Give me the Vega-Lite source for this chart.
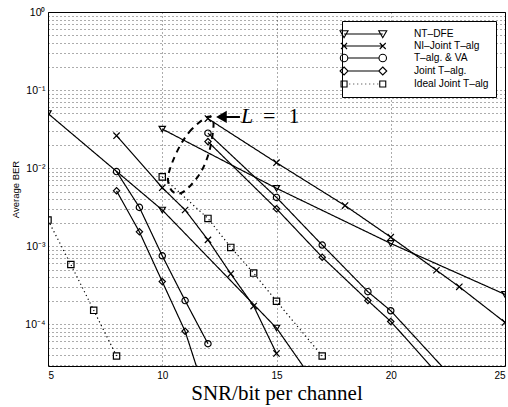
{
  "$schema": "https://vega.github.io/schema/vega-lite/v6.json",
  "width": 457,
  "height": 354,
  "autosize": {"type": "none"},
  "padding": {"left": 48, "top": 12, "right": 3, "bottom": 41},
  "background": "white",
  "config": {
    "font": "Liberation Sans",
    "view": {"stroke": "black", "strokeWidth": 1},
    "axis": {"domain": false, "ticks": false, "grid": true, "gridColor": "black", "gridDash": [1, 3], "gridOpacity": 0.65, "gridWidth": 1, "labelColor": "black", "titleColor": "black", "labelFont": "Liberation Sans", "labelFontSize": 10}
  },
  "datasets": {
    "curves": [
      {"s": "NT–DFE", "g": "A", "snr": 5, "ber": 0.05},
      {"s": "NT–DFE", "g": "A", "snr": 10, "ber": 0.0029},
      {"s": "NT–DFE", "g": "A", "snr": 15, "ber": 0.000089},
      {"s": "NT–DFE", "g": "A", "snr": 20, "ber": 0.00000071},
      {"s": "NT–DFE", "g": "B", "snr": 10, "ber": 0.0316},
      {"s": "NT–DFE", "g": "B", "snr": 15, "ber": 0.0055},
      {"s": "NT–DFE", "g": "B", "snr": 20, "ber": 0.00108},
      {"s": "NT–DFE", "g": "B", "snr": 25, "ber": 0.00024},
      {"s": "NI–Joint T–alg", "g": "A", "snr": 8, "ber": 0.026},
      {"s": "NI–Joint T–alg", "g": "A", "snr": 10, "ber": 0.0056},
      {"s": "NI–Joint T–alg", "g": "A", "snr": 11, "ber": 0.0029},
      {"s": "NI–Joint T–alg", "g": "A", "snr": 12, "ber": 0.0012},
      {"s": "NI–Joint T–alg", "g": "A", "snr": 13, "ber": 0.00044},
      {"s": "NI–Joint T–alg", "g": "A", "snr": 14, "ber": 0.00017},
      {"s": "NI–Joint T–alg", "g": "A", "snr": 15, "ber": 0.000042},
      {"s": "NI–Joint T–alg", "g": "B", "snr": 12, "ber": 0.043},
      {"s": "NI–Joint T–alg", "g": "B", "snr": 15, "ber": 0.0117},
      {"s": "NI–Joint T–alg", "g": "B", "snr": 18, "ber": 0.0033},
      {"s": "NI–Joint T–alg", "g": "B", "snr": 20, "ber": 0.0013},
      {"s": "NI–Joint T–alg", "g": "B", "snr": 22, "ber": 0.00049},
      {"s": "NI–Joint T–alg", "g": "B", "snr": 23, "ber": 0.0003},
      {"s": "NI–Joint T–alg", "g": "B", "snr": 25, "ber": 0.000105},
      {"s": "T–alg. & VA", "g": "A", "snr": 8, "ber": 0.009},
      {"s": "T–alg. & VA", "g": "A", "snr": 9, "ber": 0.00313},
      {"s": "T–alg. & VA", "g": "A", "snr": 10, "ber": 0.00075},
      {"s": "T–alg. & VA", "g": "A", "snr": 11, "ber": 0.0002},
      {"s": "T–alg. & VA", "g": "A", "snr": 12, "ber": 0.000056},
      {"s": "T–alg. & VA", "g": "B", "snr": 12, "ber": 0.028},
      {"s": "T–alg. & VA", "g": "B", "snr": 15, "ber": 0.0042},
      {"s": "T–alg. & VA", "g": "B", "snr": 17, "ber": 0.00103},
      {"s": "T–alg. & VA", "g": "B", "snr": 19, "ber": 0.00026},
      {"s": "T–alg. & VA", "g": "B", "snr": 20, "ber": 0.000148},
      {"s": "T–alg. & VA", "g": "B", "snr": 25, "ber": 0.0000038},
      {"s": "Joint T–alg.", "g": "A", "snr": 8, "ber": 0.0051},
      {"s": "Joint T–alg.", "g": "A", "snr": 9, "ber": 0.00152},
      {"s": "Joint T–alg.", "g": "A", "snr": 10, "ber": 0.00035},
      {"s": "Joint T–alg.", "g": "A", "snr": 11, "ber": 0.000081},
      {"s": "Joint T–alg.", "g": "A", "snr": 12, "ber": 0.00001},
      {"s": "Joint T–alg.", "g": "B", "snr": 12, "ber": 0.0218},
      {"s": "Joint T–alg.", "g": "B", "snr": 15, "ber": 0.003},
      {"s": "Joint T–alg.", "g": "B", "snr": 17, "ber": 0.00072},
      {"s": "Joint T–alg.", "g": "B", "snr": 19, "ber": 0.0002},
      {"s": "Joint T–alg.", "g": "B", "snr": 20, "ber": 0.000108},
      {"s": "Joint T–alg.", "g": "B", "snr": 25, "ber": 0.0000025},
      {"s": "Ideal Joint T–alg", "g": "A", "snr": 5, "ber": 0.00215},
      {"s": "Ideal Joint T–alg", "g": "A", "snr": 6, "ber": 0.00058},
      {"s": "Ideal Joint T–alg", "g": "A", "snr": 7, "ber": 0.00015},
      {"s": "Ideal Joint T–alg", "g": "A", "snr": 8, "ber": 0.000039},
      {"s": "Ideal Joint T–alg", "g": "B", "snr": 10, "ber": 0.0077},
      {"s": "Ideal Joint T–alg", "g": "B", "snr": 12, "ber": 0.00226},
      {"s": "Ideal Joint T–alg", "g": "B", "snr": 13, "ber": 0.00096},
      {"s": "Ideal Joint T–alg", "g": "B", "snr": 14, "ber": 0.00045},
      {"s": "Ideal Joint T–alg", "g": "B", "snr": 15, "ber": 0.000196},
      {"s": "Ideal Joint T–alg", "g": "B", "snr": 17, "ber": 0.000039}
    ],
    "ellipse": [
      {"i": 1, "snr": 11.96, "ber": 0.0451},
      {"i": 2, "snr": 11.30, "ber": 0.0316},
      {"i": 3, "snr": 10.82, "ber": 0.0203},
      {"i": 4, "snr": 10.43, "ber": 0.0116},
      {"i": 5, "snr": 10.25, "ber": 0.00723},
      {"i": 6, "snr": 10.43, "ber": 0.00507},
      {"i": 7, "snr": 10.82, "ber": 0.00478},
      {"i": 8, "snr": 11.30, "ber": 0.00624},
      {"i": 9, "snr": 11.74, "ber": 0.00942},
      {"i": 10, "snr": 12.05, "ber": 0.016},
      {"i": 11, "snr": 12.22, "ber": 0.029},
      {"i": 12, "snr": 12.22, "ber": 0.0412}
    ]
  },
  "layer": [
    {
      "data": {"name": "curves"},
      "mark": {"type": "line", "clip": true, "color": "black", "strokeWidth": 1.2},
      "encoding": {
        "x": {"field": "snr", "type": "quantitative", "scale": {"domain": [5, 25], "nice": false},
          "axis": {"values": [5, 10, 15, 20, 25], "labelPadding": 4, "title": "SNR/bit per channel", "titleFont": "Liberation Serif", "titleFontSize": 21, "titleFontWeight": "normal", "titlePadding": 2}},
        "y": {"field": "ber", "type": "quantitative", "scale": {"type": "log", "domain": [0.000029, 1], "nice": false},
          "axis": {"values": [0.00003,0.00004,0.00005,0.00006,0.00007,0.00008,0.00009,0.0001,0.0002,0.0003,0.0004,0.0005,0.0006,0.0007,0.0008,0.0009,0.001,0.002,0.003,0.004,0.005,0.006,0.007,0.008,0.009,0.01,0.02,0.03,0.04,0.05,0.06,0.07,0.08,0.09,0.1,0.2,0.3,0.4,0.5,0.6,0.7,0.8,0.9,1],
            "labelExpr": "datum.value == 1 ? '10⁰' : datum.value == 0.1 ? '10⁻¹' : datum.value == 0.01 ? '10⁻²' : datum.value == 0.001 ? '10⁻³' : datum.value == 0.0001 ? '10⁻⁴' : ''",
            "labelPadding": 3, "labelFontSize": 10.5, "title": "Average BER", "titleFontSize": 9.5, "titleFontWeight": "normal", "titleFont": "Liberation Sans", "titlePadding": 4}},
        "detail": {"field": "g"},
        "strokeDash": {"field": "s", "type": "nominal", "legend": null,
          "scale": {"domain": ["NT–DFE", "NI–Joint T–alg", "T–alg. & VA", "Joint T–alg.", "Ideal Joint T–alg"], "range": [[1, 0], [1, 0], [1, 0], [1, 0], [1.2, 3]]}}
      }
    },
    {
      "data": {"name": "curves"},
      "mark": {"type": "point", "clip": true, "filled": false, "color": "black", "strokeWidth": 1.2, "size": 40, "opacity": 1},
      "encoding": {
        "x": {"field": "snr", "type": "quantitative"},
        "y": {"field": "ber", "type": "quantitative"},
        "shape": {"field": "s", "type": "nominal", "legend": null,
          "scale": {"domain": ["NT–DFE", "NI–Joint T–alg", "T–alg. & VA", "Joint T–alg.", "Ideal Joint T–alg"], "range": ["triangle-down", "M-1,-1L1,1M-1,1L1,-1", "circle", "diamond", "square"]}}
      }
    },
    {
      "data": {"name": "curves"},
      "mark": {"type": "point", "clip": true, "filled": false, "color": "black", "opacity": 0},
      "encoding": {
        "x": {"field": "snr", "type": "quantitative"},
        "y": {"field": "ber", "type": "quantitative"},
        "shape": {"field": "s", "type": "nominal",
          "scale": {"domain": ["NT–DFE", "NI–Joint T–alg", "T–alg. & VA", "Joint T–alg.", "Ideal Joint T–alg"],
            "range": [
              "M-3.87,0L3.87,0M-4.67,-0.65L-3.07,-0.65L-3.87,0.75ZM3.07,-0.65L4.67,-0.65L3.87,0.75ZM24.6,0L24.6,0",
              "M-3.87,0L3.87,0M-4.47,-0.6L-3.27,0.6M-4.47,0.6L-3.27,-0.6M3.27,-0.6L4.47,0.6M3.27,0.6L4.47,-0.6M24.6,0L24.6,0",
              "M-3.12,0L3.12,0M-3.12,0A0.75,0.75 0 1 1 -4.62,0A0.75,0.75 0 1 1 -3.12,0ZM4.62,0A0.75,0.75 0 1 1 3.12,0A0.75,0.75 0 1 1 4.62,0ZM24.6,0L24.6,0",
              "M-3.07,0L3.07,0M-3.87,-0.8L-3.07,0L-3.87,0.8L-4.67,0ZM3.87,-0.8L4.67,0L3.87,0.8L3.07,0ZM24.6,0L24.6,0",
              "M-4.47,-0.6L-3.27,-0.6L-3.27,0.6L-4.47,0.6ZM3.27,-0.6L4.47,-0.6L4.47,0.6L3.27,0.6ZM-2.8,0L-2.64,0M-2.0,0L-1.84,0M-1.2,0L-1.04,0M-0.4,0L-0.24,0M0.4,0L0.56,0M1.2,0L1.36,0M2.0,0L2.16,0M2.8,0L2.96,0M24.6,0L24.6,0"
            ]},
          "legend": {"title": null, "orient": "top-right", "offset": 9, "symbolSize": 100, "symbolStrokeWidth": 1.1, "symbolOffset": 8.4,
            "labelFont": "Liberation Sans", "labelFontSize": 10.2, "labelColor": "black", "labelOffset": 44.5, "padding": 7, "rowPadding": 0,
            "strokeColor": "black", "fillColor": "white",
            "encode": {"symbols": {"update": {"opacity": {"value": 1}, "stroke": {"value": "black"}, "fill": {"value": "transparent"}}}}}}
      }
    },
    {
      "data": {"name": "ellipse"},
      "mark": {"type": "line", "interpolate": "cardinal-closed", "color": "black", "strokeWidth": 2, "strokeDash": [6, 5]},
      "encoding": {
        "x": {"field": "snr", "type": "quantitative"},
        "y": {"field": "ber", "type": "quantitative"},
        "order": {"field": "i", "type": "quantitative"}
      }
    },
    {
      "data": {"values": [{"a": 12.79, "b": 13.4, "ber": 0.0451}]},
      "mark": {"type": "rule", "color": "black", "strokeWidth": 2},
      "encoding": {
        "x": {"field": "a", "type": "quantitative"},
        "x2": {"field": "b"},
        "y": {"field": "ber", "type": "quantitative"}
      }
    },
    {
      "data": {"values": [{"snr": 12.59, "ber": 0.0451}]},
      "mark": {"type": "point", "shape": "triangle-left", "filled": true, "color": "black", "size": 150, "opacity": 1},
      "encoding": {
        "x": {"field": "snr", "type": "quantitative"},
        "y": {"field": "ber", "type": "quantitative"}
      }
    },
    {
      "data": {"values": [{"t": "L", "snr": 13.45, "ber": 0.0378}]},
      "mark": {"type": "text", "font": "Liberation Serif", "fontStyle": "italic", "fontSize": 22, "align": "left", "baseline": "alphabetic", "color": "black"},
      "encoding": {
        "x": {"field": "snr", "type": "quantitative"},
        "y": {"field": "ber", "type": "quantitative"},
        "text": {"field": "t"}
      }
    },
    {
      "data": {"values": [{"t": "=", "snr": 14.41, "ber": 0.0378}, {"t": "1", "snr": 15.53, "ber": 0.0378}]},
      "mark": {"type": "text", "font": "Liberation Serif", "fontSize": 22, "align": "left", "baseline": "alphabetic", "color": "black"},
      "encoding": {
        "x": {"field": "snr", "type": "quantitative"},
        "y": {"field": "ber", "type": "quantitative"},
        "text": {"field": "t"}
      }
    }
  ],
  "resolve": {"scale": {"shape": "independent"}, "legend": {"shape": "independent"}}
}
